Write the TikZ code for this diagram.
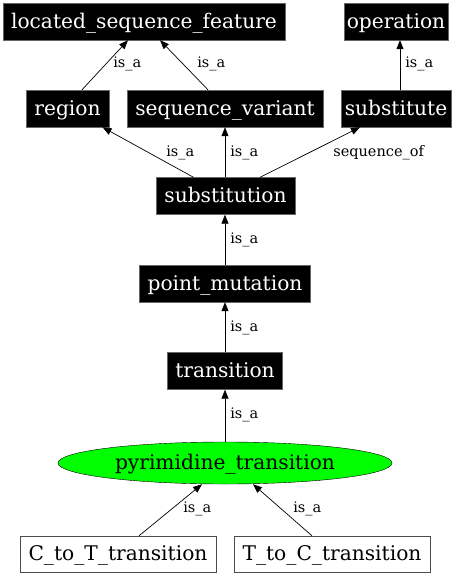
\documentclass[tikz,border=0pt]{standalone}
\usepackage{fontspec}
\setmainfont{DejaVu Serif}
\usetikzlibrary{arrows.meta,shapes.geometric}
\tikzset{
  x=1pt,y=-1pt,
  nfont/.style={font=\fontsize{20.2}{23}\selectfont,text height=14pt,text depth=1pt},
  blk/.style={rectangle,fill=black,draw=black!60,text=white,minimum height=37pt,inner sep=0pt,nfont},
  wht/.style={rectangle,fill=white,draw=black!70,text=black,minimum height=36pt,inner sep=0pt,nfont},
  ell/.style={ellipse,fill=green,draw=black,minimum width=334pt,minimum height=42pt,inner sep=0pt,nfont},
  edge/.style={draw=black,line width=0.7pt,-{Triangle[length=9pt,width=7pt]}},
  lab/.style={anchor=west,inner sep=0pt,font=\fontsize{14.5}{16}\selectfont}
}
\begin{document}
\begin{tikzpicture}
\useasboundingbox (0,0) rectangle (463,576);
\node[blk,minimum width=282pt] (lsf) at (144,21.5) {located\_sequence\_feature};
\node[blk,minimum width=104pt] (op) at (396,21.5) {operation};
\node[blk,minimum width=83pt] (region) at (67.5,108.5) {region};
\node[blk,minimum width=196pt] (sv) at (225,108.5) {sequence\_variant};
\node[blk,minimum width=110pt] (subst) at (396,108.5) {substitute};
\node[blk,minimum width=139pt] (sub) at (225.5,196) {substitution};
\node[blk,minimum width=171pt] (pm) at (225,283.5) {point\_mutation};
\node[blk,minimum width=115pt] (tr) at (225,371) {transition};
\node[ell] (pyr) at (225,463) {pyrimidine\_transition};
\node[wht,minimum width=196pt] (ct) at (118,554) {C\_to\_T\_transition};
\node[wht,minimum width=196pt] (tc) at (332,554) {T\_to\_C\_transition};

\draw[edge] ([xshift=14.5pt]region.north) -- ([xshift=-16pt]lsf.south) node[lab] at (113,64) {is\_a};
\draw[edge] ([xshift=-17pt]sv.north) -- ([xshift=16pt]lsf.south) node[lab] at (197,64) {is\_a};
\draw[edge] ([xshift=4pt]subst.north) -- ([xshift=4pt]op.south) node[lab] at (405,64) {is\_a};
\draw[edge] ([xshift=-32pt]sub.north) -- ([xshift=35pt]region.south) node[lab] at (166,153) {is\_a};
\draw[edge] (sub.north -| sv.south) -- (sv.south) node[lab] at (230,153) {is\_a};
\draw[edge] ([xshift=34.5pt]sub.north) -- ([xshift=-36pt]subst.south) node[lab] at (333,153) {sequence\_of};
\draw[edge] (pm.north) -- (pm.north |- sub.south) node[lab] at (230,240) {is\_a};
\draw[edge] (tr.north) -- (tr.north |- pm.south) node[lab] at (230,328) {is\_a};
\draw[edge] (pyr.north) -- (pyr.north |- tr.south) node[lab] at (230,415) {is\_a};
\draw[edge] ([xshift=21pt]ct.north) -- ([xshift=-23pt]pyr.south) node[lab] at (183,509) {is\_a};
\draw[edge] ([xshift=-20pt]tc.north) -- ([xshift=28pt]pyr.south) node[lab] at (293,509) {is\_a};
\end{tikzpicture}
\end{document}
